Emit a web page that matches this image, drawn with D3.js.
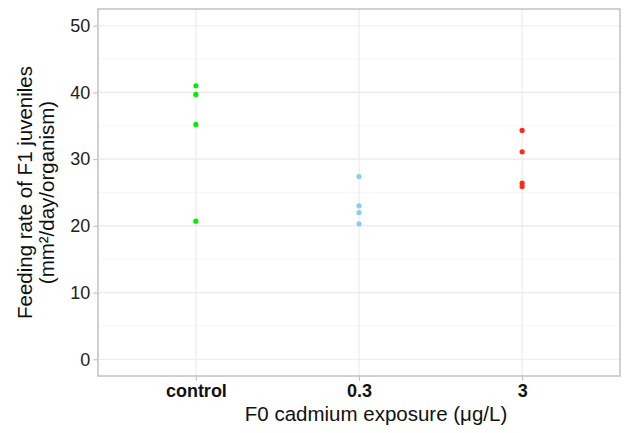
<!DOCTYPE html>
<html><head><meta charset="utf-8">
<script src="https://cdn.jsdelivr.net/npm/d3@7"></script>
<style>body{margin:0;background:#fff}svg{display:block}text{font-family:"Liberation Sans",Arial,sans-serif}</style>
</head><body><svg id="c" width="625" height="433"></svg>
<script>
const categories = ["control", "0.3", "3"];
const colors = ["#00EE00", "#87CEEB", "#FF2A1A"];
const controlValues = [41.0, 39.7, 35.2, 20.7];
const lowValues = [27.4, 23.0, 22.0, 20.3];
const highValues = [34.3, 31.1, 26.4, 25.9];
const yTicks = [0, 10, 20, 30, 40, 50];
const yMinor = [5, 15, 25, 35, 45];
const series = [controlValues, lowValues, highValues];

const svg = d3.select("#c");
const L = 98, R = 620, T = 9, B = 376;
const x = d3.scalePoint().domain(categories).range([L, R]).padding(0.6);
const y = d3.scaleLinear().domain([-2.5, 52.5]).range([B, T]);

const g = svg.append("g");
g.append("g").selectAll("line").data(yMinor).join("line")
  .attr("x1", L).attr("x2", R).attr("y1", d => y(d)).attr("y2", d => y(d))
  .attr("stroke", "#F3F3F3").attr("stroke-width", 0.7);
g.append("g").selectAll("line").data(yTicks).join("line")
  .attr("x1", L).attr("x2", R).attr("y1", d => y(d)).attr("y2", d => y(d))
  .attr("stroke", "#EAEAEA").attr("stroke-width", 1.1);
g.append("g").selectAll("line").data(categories).join("line")
  .attr("y1", T).attr("y2", B).attr("x1", d => x(d)).attr("x2", d => x(d))
  .attr("stroke", "#EAEAEA").attr("stroke-width", 1.1);

const pts = [];
series.forEach((vals, i) => vals.forEach(v => pts.push({c: categories[i], v, col: colors[i]})));
g.append("g").selectAll("circle").data(pts).join("circle")
  .attr("cx", d => x(d.c)).attr("cy", d => y(d.v)).attr("r", 2.6)
  .attr("fill", d => d.col);

g.append("rect").attr("x", L).attr("y", T).attr("width", R - L).attr("height", B - T)
  .attr("fill", "none").attr("stroke", "#BDBDBD").attr("stroke-width", 1.4);

const ya = svg.append("g").attr("transform", `translate(${L - 0.7},0)`)
  .call(d3.axisLeft(y).tickValues(yTicks).tickSize(4).tickPadding(3));
ya.select(".domain").remove();
ya.selectAll("line").attr("stroke", "#BDBDBD").attr("stroke-width", 1.1);
ya.selectAll("text").attr("font-size", 18).attr("fill", "#222").attr("font-family", "Liberation Sans, Arial, sans-serif");

const xa = svg.append("g").attr("transform", `translate(0,${B + 0.7})`)
  .call(d3.axisBottom(x).tickSize(4).tickPadding(4));
xa.select(".domain").remove();
xa.selectAll("line").attr("stroke", "#BDBDBD").attr("stroke-width", 1.1);
xa.selectAll("text").attr("font-size", 18).attr("font-weight", "bold").attr("fill", "#111")
  .attr("font-family", "Liberation Sans, Arial, sans-serif");

svg.append("text").attr("x", 376).attr("y", 421).attr("text-anchor", "middle")
  .attr("font-size", 20.5).attr("fill", "#111").text("F0 cadmium exposure (μg/L)");

const yl = svg.append("text").attr("transform", `translate(0,${(T + B) / 2}) rotate(-90)`)
  .attr("text-anchor", "middle").attr("font-size", 20.5).attr("fill", "#111");
yl.append("tspan").attr("x", 0).attr("y", 32).text("Feeding rate of F1 juveniles");
yl.append("tspan").attr("x", 0).attr("y", 54).text("(mm²/day/organism)");
</script></body></html>
